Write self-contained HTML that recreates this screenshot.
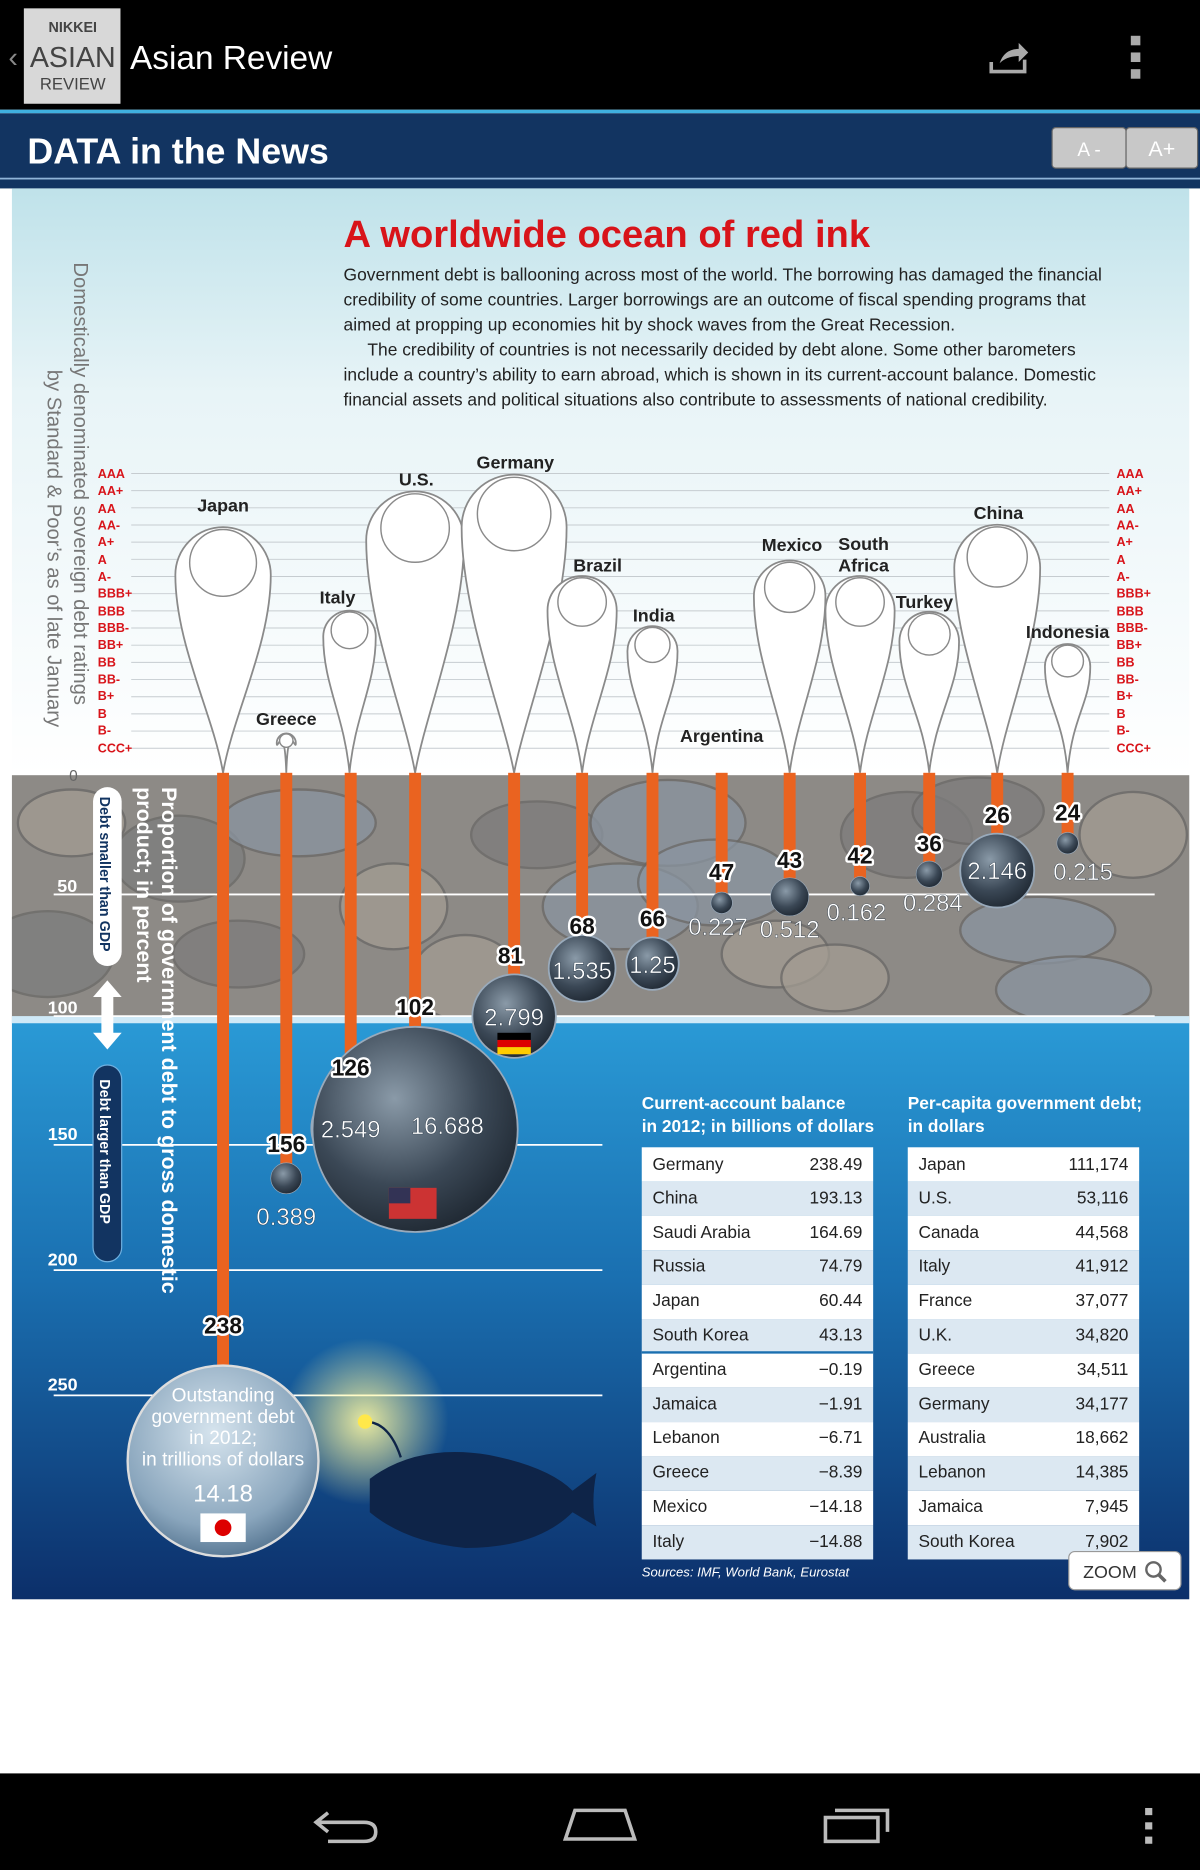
<!DOCTYPE html>
<html><head><meta charset="utf-8"><style>
html,body{margin:0;padding:0;background:#fff;}
svg{display:block}
text{font-family:"Liberation Sans",sans-serif}
</style></head><body>
<svg id="s" width="1200" height="1870" viewBox="0 0 1006 1568" preserveAspectRatio="none" xmlns="http://www.w3.org/2000/svg">
<defs>
<linearGradient id="sky" x1="0" y1="0" x2="0" y2="1"><stop offset="0" stop-color="#bfe2ea"/><stop offset="0.35" stop-color="#e8f4f7"/><stop offset="1" stop-color="#ffffff"/></linearGradient>
<linearGradient id="sea" x1="0" y1="0" x2="0" y2="1"><stop offset="0" stop-color="#2a9ad6"/><stop offset="0.45" stop-color="#1a6fb0"/><stop offset="1" stop-color="#0c2f6a"/></linearGradient>
<radialGradient id="ball" cx="0.4" cy="0.35" r="0.7"><stop offset="0" stop-color="#8a9aa8"/><stop offset="0.6" stop-color="#3b4856"/><stop offset="1" stop-color="#1e2731"/></radialGradient>
<radialGradient id="jball" cx="0.45" cy="0.35" r="0.7"><stop offset="0" stop-color="#d6e4ee"/><stop offset="0.7" stop-color="#8aa6bd"/><stop offset="1" stop-color="#4d6d8a"/></radialGradient>
<radialGradient id="glow" cx="0.5" cy="0.5" r="0.5"><stop offset="0" stop-color="#fff9a0" stop-opacity="0.9"/><stop offset="1" stop-color="#fff9a0" stop-opacity="0"/></radialGradient>
<clipPath id="rock"><rect x="10" y="650" width="987" height="205"/></clipPath>
</defs>
<rect width="1006" height="1568" fill="#fff"/>
<rect width="1006" height="92" fill="#000"/>
<rect x="20" y="7" width="81" height="80" fill="#d8d8d8"/>
<text x="61" y="27" font-size="12" font-weight="bold" fill="#444" text-anchor="middle">NIKKEI</text>
<text x="61" y="56" font-size="24" fill="#444" text-anchor="middle">ASIAN</text>
<text x="61" y="75" font-size="14" fill="#444" text-anchor="middle">REVIEW</text>
<text x="7" y="56" font-size="24" fill="#888">‹</text>
<text x="109" y="58" font-size="28" fill="#fff">Asian Review</text>
<path d="M831 52 v8 h28 v-10" fill="none" stroke="#aaa" stroke-width="3"/>
<path d="M838 53 q4 -12 16 -12 v-5 l8 8 l-8 8 v-5 q-10 0 -16 6z" fill="#aaa"/>
<rect x="948" y="30" width="8" height="8" fill="#aaa"/><rect x="948" y="44" width="8" height="8" fill="#aaa"/><rect x="948" y="58" width="8" height="8" fill="#aaa"/>
<rect y="92" width="1006" height="3" fill="#3fb0e0"/>
<rect y="95" width="1006" height="63" fill="#123461"/>
<rect y="149" width="1006" height="1.5" fill="#8fb4d8"/>
<text x="23" y="137" font-size="30" font-weight="bold" fill="#fff">DATA in the News</text>
<rect x="882" y="107" width="62" height="34" rx="3" fill="#c8c8c8" stroke="#666"/>
<rect x="944" y="107" width="60" height="34" rx="3" fill="#c8c8c8" stroke="#666"/>
<text x="913" y="131" font-size="16" fill="#fff" text-anchor="middle" font-family="Liberation Serif">A -</text>
<text x="974" y="131" font-size="18" fill="#fff" text-anchor="middle" font-family="Liberation Serif">A+</text>
<rect x="10" y="158" width="987" height="492" fill="url(#sky)"/>
<rect x="10" y="650" width="987" height="205" fill="#8d8a86"/>
<rect x="10" y="855" width="987" height="486" fill="url(#sea)"/>
<g id="dyn"></g>
<text x="288" y="207" font-size="32" fill="#d8141a" font-weight="bold">A worldwide ocean of red ink</text>
<g font-size="14.6" fill="#222">
<text x="288" y="235">Government debt is ballooning across most of the world. The borrowing has damaged the financial</text>
<text x="288" y="256">credibility of some countries. Larger borrowings are an outcome of fiscal spending programs that</text>
<text x="288" y="277">aimed at propping up economies hit by shock waves from the Great Recession.</text>
<text x="308" y="298">The credibility of countries is not necessarily decided by debt alone. Some other barometers</text>
<text x="288" y="319">include a country’s ability to earn abroad, which is shown in its current-account balance. Domestic</text>
<text x="288" y="340">financial assets and political situations also contribute to assessments of national credibility.</text>
</g>
<text transform="translate(62,220) rotate(90)" font-size="17" fill="#777">Domestically denominated sovereign debt ratings</text>
<text transform="translate(40,310) rotate(90)" font-size="17" fill="#777">by Standard &amp; Poor’s as of late January</text>
<text transform="translate(136,660) rotate(90)" font-size="18" font-weight="bold" fill="#fff">Proportion of government debt to gross domestic</text>
<text transform="translate(115,660) rotate(90)" font-size="18" font-weight="bold" fill="#fff">product; in percent</text>
<rect x="78" y="660" width="24" height="150" rx="12" fill="#fff"/>
<text transform="translate(84,668) rotate(90)" font-size="12" font-weight="bold" fill="#123461">Debt smaller than GDP</text>
<rect x="78" y="893" width="24" height="165" rx="12" fill="#123461" stroke="#6fb0e0"/>
<text transform="translate(84,905) rotate(90)" font-size="12" font-weight="bold" fill="#fff">Debt larger than GDP</text>
<path d="M90 822 l-12 14 h7 v30 h-7 l12 14 l12 -14 h-7 v-30 h7z" fill="#fff"/>
<g font-size="15" fill="#fff" font-weight="bold">
<text x="48" y="748">50</text><text x="40" y="850">100</text><text x="40" y="956">150</text><text x="40" y="1061">200</text><text x="40" y="1166">250</text>
</g>
<text x="58" y="655" font-size="13" fill="#666">0</text>
<g font-size="15" font-weight="bold" fill="#222" text-anchor="middle">
<text x="187" y="429">Japan</text><text x="240" y="608">Greece</text><text x="283" y="506">Italy</text><text x="349" y="407">U.S.</text><text x="432" y="393">Germany</text><text x="501" y="479">Brazil</text><text x="548" y="521">India</text><text x="605" y="622">Argentina</text><text x="664" y="462">Mexico</text><text x="724" y="461">South</text><text x="724" y="479">Africa</text><text x="775" y="510">Turkey</text><text x="837" y="435">China</text><text x="895" y="535">Indonesia</text>
</g>
<circle cx="306" cy="1192" r="70" fill="url(#glow)"/>
<path d="M310 1240 q40 -30 100 -20 q50 10 70 30 l20 -15 q-5 25 0 45 l-20 -12 q-30 30 -90 30 q-50 -5 -80 -30 z" fill="#0e2448"/>
<path d="M306 1192 q20 0 30 30" fill="none" stroke="#0e2448" stroke-width="2"/>
<circle cx="306" cy="1192" r="6" fill="#ffe84a"/>
<circle cx="187" cy="1225" r="80" fill="url(#jball)" stroke="#ddd" stroke-width="2"/>
<g fill="#fff" font-size="16" text-anchor="middle">
<text x="187" y="1175">Outstanding</text><text x="187" y="1193">government debt</text><text x="187" y="1211">in 2012;</text><text x="187" y="1229">in trillions of dollars</text>
<text x="187" y="1259" font-size="20">14.18</text>
</g>
<rect x="168" y="1269" width="38" height="24" fill="#fff"/><circle cx="187" cy="1281" r="7" fill="#d00"/>
<g font-size="20" fill="#fff" text-anchor="middle" stroke="#123" stroke-width="0.3">
<text x="240" y="1027">0.389</text><text x="294" y="954">2.549</text><text x="375" y="951">16.688</text><text x="431" y="860">2.799</text><text x="488" y="821">1.535</text><text x="547" y="816">1.25</text><text x="602" y="784">0.227</text><text x="662" y="786">0.512</text><text x="718" y="772">0.162</text><text x="782" y="764">0.284</text><text x="836" y="737">2.146</text><text x="908" y="738">0.215</text>
</g>
<rect x="326" y="996" width="40" height="26" fill="#c33"/><rect x="326" y="996" width="18" height="13" fill="#335"/>
<rect x="417" y="866" width="28" height="6" fill="#000"/><rect x="417" y="872" width="28" height="6" fill="#d00"/><rect x="417" y="878" width="28" height="6" fill="#fc0"/>
<g font-size="14.5" font-weight="bold" fill="#fff">
<text x="538" y="930">Current-account balance</text><text x="538" y="949">in 2012; in billions of dollars</text>
<text x="761" y="930">Per-capita government debt;</text><text x="761" y="949">in dollars</text>
</g>
<g id="tables" font-size="14.5" fill="#222">
<text x="547" y="981">Germany</text><text x="723" y="981" text-anchor="end">238.49</text>
<text x="547" y="1009">China</text><text x="723" y="1009" text-anchor="end">193.13</text>
<text x="547" y="1038">Saudi Arabia</text><text x="723" y="1038" text-anchor="end">164.69</text>
<text x="547" y="1066">Russia</text><text x="723" y="1066" text-anchor="end">74.79</text>
<text x="547" y="1095">Japan</text><text x="723" y="1095" text-anchor="end">60.44</text>
<text x="547" y="1124">South Korea</text><text x="723" y="1124" text-anchor="end">43.13</text>
<text x="547" y="1153">Argentina</text><text x="723" y="1153" text-anchor="end">−0.19</text>
<text x="547" y="1182">Jamaica</text><text x="723" y="1182" text-anchor="end">−1.91</text>
<text x="547" y="1210">Lebanon</text><text x="723" y="1210" text-anchor="end">−6.71</text>
<text x="547" y="1239">Greece</text><text x="723" y="1239" text-anchor="end">−8.39</text>
<text x="547" y="1268">Mexico</text><text x="723" y="1268" text-anchor="end">−14.18</text>
<text x="547" y="1297">Italy</text><text x="723" y="1297" text-anchor="end">−14.88</text>
<text x="770" y="981">Japan</text><text x="946" y="981" text-anchor="end">111,174</text>
<text x="770" y="1009">U.S.</text><text x="946" y="1009" text-anchor="end">53,116</text>
<text x="770" y="1038">Canada</text><text x="946" y="1038" text-anchor="end">44,568</text>
<text x="770" y="1066">Italy</text><text x="946" y="1066" text-anchor="end">41,912</text>
<text x="770" y="1095">France</text><text x="946" y="1095" text-anchor="end">37,077</text>
<text x="770" y="1124">U.K.</text><text x="946" y="1124" text-anchor="end">34,820</text>
<text x="770" y="1153">Greece</text><text x="946" y="1153" text-anchor="end">34,511</text>
<text x="770" y="1182">Germany</text><text x="946" y="1182" text-anchor="end">34,177</text>
<text x="770" y="1210">Australia</text><text x="946" y="1210" text-anchor="end">18,662</text>
<text x="770" y="1239">Lebanon</text><text x="946" y="1239" text-anchor="end">14,385</text>
<text x="770" y="1268">Jamaica</text><text x="946" y="1268" text-anchor="end">7,945</text>
<text x="770" y="1297">South Korea</text><text x="946" y="1297" text-anchor="end">7,902</text>
</g>
<text x="538" y="1322" font-size="11" font-style="italic" fill="#fff">Sources: IMF, World Bank, Eurostat</text>
<rect x="896" y="1301" width="94" height="32" rx="5" fill="#fff" stroke="#999"/>
<text x="908" y="1323" font-size="15" fill="#333">ZOOM</text>
<circle cx="967" cy="1316" r="6" fill="none" stroke="#666" stroke-width="2"/><path d="M971 1320 l6 6" stroke="#666" stroke-width="3"/>
<g id="ratings" font-size="10.5" fill="#d8141a" font-weight="bold">
<text x="82" y="401">AAA</text><text x="82" y="415">AA+</text><text x="82" y="430">AA</text><text x="82" y="444">AA-</text><text x="82" y="458">A+</text><text x="82" y="473">A</text><text x="82" y="487">A-</text><text x="82" y="501">BBB+</text><text x="82" y="516">BBB</text><text x="82" y="530">BBB-</text><text x="82" y="544">BB+</text><text x="82" y="559">BB</text><text x="82" y="573">BB-</text><text x="82" y="587">B+</text><text x="82" y="602">B</text><text x="82" y="616">B-</text><text x="82" y="631">CCC+</text>
<text x="936" y="401">AAA</text><text x="936" y="415">AA+</text><text x="936" y="430">AA</text><text x="936" y="444">AA-</text><text x="936" y="458">A+</text><text x="936" y="473">A</text><text x="936" y="487">A-</text><text x="936" y="501">BBB+</text><text x="936" y="516">BBB</text><text x="936" y="530">BBB-</text><text x="936" y="544">BB+</text><text x="936" y="559">BB</text><text x="936" y="573">BB-</text><text x="936" y="587">B+</text><text x="936" y="602">B</text><text x="936" y="616">B-</text><text x="936" y="631">CCC+</text>
</g>
<g font-size="19" fill="#fff" font-weight="bold" text-anchor="middle" stroke="#fff" stroke-width="4" stroke-linejoin="round">
<text x="187" y="1118">238</text><text x="240" y="966">156</text><text x="294" y="902">126</text><text x="348" y="851">102</text><text x="428" y="808">81</text><text x="488" y="783">68</text><text x="547" y="777">66</text><text x="605" y="738">47</text><text x="662" y="728">43</text><text x="721" y="724">42</text><text x="779" y="714">36</text><text x="836" y="690">26</text><text x="895" y="688">24</text>
</g>
<g font-size="19" fill="#111" font-weight="bold" text-anchor="middle">
<text x="187" y="1118">238</text><text x="240" y="966">156</text><text x="294" y="902">126</text><text x="348" y="851">102</text><text x="428" y="808">81</text><text x="488" y="783">68</text><text x="547" y="777">66</text><text x="605" y="738">47</text><text x="662" y="728">43</text><text x="721" y="724">42</text><text x="779" y="714">36</text><text x="836" y="690">26</text><text x="895" y="688">24</text>
</g>
<rect y="1487" width="1006" height="81" fill="#000"/>
<path d="M265 1528 h40 q10 0 10 8 q0 8 -10 8 h-30 M275 1520 l-10 8 l10 8" fill="none" stroke="#bbb" stroke-width="3"/>
<path d="M474 1542 l8 -24 h42 l8 24 z" fill="none" stroke="#bbb" stroke-width="3"/>
<rect x="692" y="1524" width="44" height="20" fill="none" stroke="#bbb" stroke-width="3"/><path d="M700 1518 h44 v18" fill="none" stroke="#bbb" stroke-width="3"/>
<rect x="960" y="1516" width="6" height="6" fill="#bbb"/><rect x="960" y="1528" width="6" height="6" fill="#bbb"/><rect x="960" y="1540" width="6" height="6" fill="#bbb"/>
</svg>
<script>
var NS="http://www.w3.org/2000/svg",g=document.getElementById("dyn");
function el(t,a,p){var e=document.createElementNS(NS,t);for(var k in a)e.setAttribute(k,a[k]);(p||g).appendChild(e);return e;}
for(var i=0;i<17;i++){var y=397+i*14.4;el("line",{x1:110,x2:930,y1:y,y2:y,stroke:"#c6ccd0","stroke-width":0.8});}
var rg=el("g",{"clip-path":"url(#rock)"});
var st=[[60,690],[150,720],[250,690],[330,760],[450,700],[560,690],[650,800],[760,700],[870,780],[950,700],[200,800],[520,760],[700,820],[40,800],[900,830],[390,820],[820,680],[600,740]];
st.forEach(function(p,i){el("ellipse",{cx:p[0],cy:p[1],rx:45+(i%3)*10,ry:28+(i%2)*8,fill:["#a39c92","#7d7c7c","#8a94a0"][i%3],stroke:"#6a6866","stroke-width":2,opacity:0.75},rg);});
el("rect",{x:10,y:852,width:987,height:6,fill:"#cfe9f7"});
[[750,968],[852,968],[960,505],[1065,505],[1170,505]].forEach(function(l){el("line",{x1:45,x2:l[1],y1:l[0],y2:l[0],stroke:"#fff","stroke-width":1.5});});
var B=[[187,442,80],[240,615,16],[293,512,44],[348,412,82],[431,398,88],[488,483,58],[547,525,42],[662,470,60],[721,483,58],[779,513,50],[836,440,72],[895,540,38]];
B.forEach(function(b){var x=b[0],t=b[1],w=b[2]/2,r=w;var hy=t+r;var d="M"+x+",648 C"+(x-w*0.2)+",600 "+(x-w)+","+(hy+(648-hy)*0.35)+" "+(x-w)+","+hy+" A"+r+","+r+" 0 0 1 "+(x+w)+","+hy+" C"+(x+w)+","+(hy+(648-hy)*0.35)+" "+(x+w*0.2)+",600 "+x+",648 Z";
el("path",{d:d,fill:"#fff",stroke:"#8a8a8a","stroke-width":1.5});
el("circle",{cx:x,cy:t+r*0.75,r:r*0.7,fill:"#fff",stroke:"#8a8a8a","stroke-width":1.2});});
var R=[[187,1150,0],[240,988,13],[294,946,33],[348,947,86],[431,852,35],[488,812,28],[547,808,22],[605,757,9],[662,752,16],[721,743,8],[779,733,11],[836,730,31],[895,707,9]];
R.forEach(function(r){el("rect",{x:r[0]-5,y:648,width:10,height:r[1]-648,fill:"#ea6320"});});
R.forEach(function(r){if(r[2])el("circle",{cx:r[0],cy:r[1],r:r[2],fill:"url(#ball)",stroke:"#9ab","stroke-width":r[2]>20?1.5:0.5});});
[[538],[761]].forEach(function(t){for(var i=0;i<12;i++){el("rect",{x:t[0],y:962+i*28.8,width:194,height:28.8,fill:i%2?"#dce8f2":"#fff"});}});
el("line",{x1:538,x2:732,y1:1134,y2:1134,stroke:"#1a6fb0","stroke-width":2});
</script>
</body></html>
